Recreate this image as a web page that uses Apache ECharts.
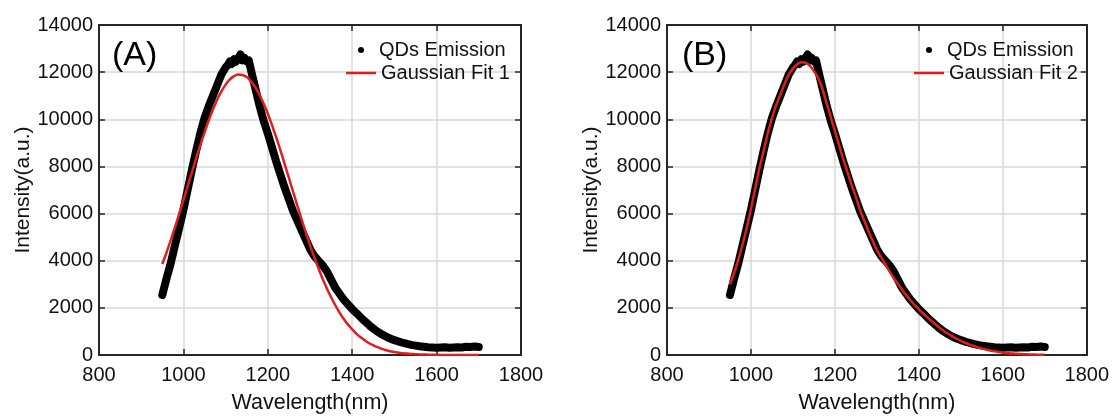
<!DOCTYPE html>
<html>
<head>
<meta charset="utf-8">
<script src="https://cdn.jsdelivr.net/npm/echarts@6/dist/echarts.min.js"></script>
<style>
html,body{margin:0;padding:0;background:#ffffff;}
#chart{width:1112px;height:419px;}
</style>
</head>
<body>
<div id="chart"></div>
<script>
// ---- data ----
const xTicks = [800, 1000, 1200, 1400, 1600, 1800];
const yTicks = [0, 2000, 4000, 6000, 8000, 10000, 12000, 14000];

const qdWavelength = [950,960,970,980,990,1000,1010,1020,1030,1040,1050,1060,1070,1080,1090,1100,1105,1110,1115,1120,1125,1130,1135,1140,1145,1150,1155,1160,1170,1180,1190,1200,1210,1220,1230,1240,1250,1260,1270,1280,1290,1300,1310,1320,1330,1340,1350,1360,1370,1380,1390,1400,1410,1420,1430,1440,1450,1460,1470,1480,1490,1500,1510,1520,1530,1540,1550,1560,1570,1580,1590,1600,1610,1620,1630,1640,1650,1660,1670,1680,1690,1700];
const qdIntensity = [2550,3250,3900,4650,5400,6150,7000,7850,8650,9400,10050,10550,11000,11450,11900,12200,12300,12450,12350,12550,12450,12600,12750,12500,12600,12450,12500,12100,11350,10600,9950,9400,8800,8200,7650,7100,6600,6100,5700,5300,4900,4500,4200,4000,3800,3550,3200,2850,2600,2350,2150,1950,1780,1600,1430,1270,1120,990,880,780,700,630,570,520,470,430,400,370,350,330,320,310,320,330,310,320,330,320,350,340,360,340];

const fitWavelength = [950,960,970,980,990,1000,1010,1020,1030,1040,1050,1060,1070,1080,1090,1100,1110,1120,1130,1140,1150,1160,1170,1180,1190,1200,1210,1220,1230,1240,1250,1260,1270,1280,1290,1300,1310,1320,1330,1340,1350,1360,1370,1380,1390,1400,1410,1420,1430,1440,1450,1460,1470,1480,1490,1500,1510,1520,1530,1540,1550,1560,1570,1580,1590,1600,1610,1620,1630,1640,1650,1660,1670,1680,1690,1700];
const fit1Intensity = [3860,4350,4870,5420,5990,6570,7160,7750,8330,8900,9440,9950,10410,10830,11180,11470,11690,11830,11900,11880,11790,11610,11370,11050,10670,10240,9750,9230,8680,8100,7510,6920,6340,5760,5200,4660,4150,3680,3230,2820,2450,2110,1800,1530,1290,1090,900,750,620,500,410,330,260,210,160,130,100,78,60,46,35,26,19,14,10,7,5,4,3,2,1,1,1,0,0,0];
const fit2Intensity = [3000,3500,4050,4700,5400,6200,7050,7900,8650,9400,10050,10600,11050,11500,11900,12150,12330,12420,12400,12280,12050,11750,11300,10700,10100,9500,8900,8300,7750,7200,6700,6150,5700,5250,4850,4450,4150,3850,3550,3280,3020,2770,2540,2320,2120,1940,1760,1600,1440,1290,1150,1020,900,790,690,600,520,450,390,330,280,235,195,160,130,105,85,68,54,43,34,27,21,16,12,9];

// ---- build ----
const FONT = 'Liberation Sans, Arial, Helvetica, sans-serif';
const AXIS_COLOR = '#262626';
const TEXT_COLOR = '#111111';
const RED = '#e01e1e';

const pairs = (xs, ys) => xs.map((x, i) => [x, ys[i]]);

const grids = [
  {left: 99, top: 25, width: 422, height: 337},
  {left: 667, top: 25, width: 423, height: 337}
];

function xAxes(gridIndex) {
  const base = {
    type: 'value', gridIndex,
    min: xTicks[0], max: xTicks[xTicks.length - 1], interval: xTicks[1] - xTicks[0]
  };
  return [
    Object.assign({}, base, {
      position: 'bottom',
      name: 'Wavelength(nm)', nameLocation: 'middle', nameGap: 37,
      nameTextStyle: {fontSize: 21.5, fontFamily: FONT, color: TEXT_COLOR},
      axisLine: {show: true, onZero: false, lineStyle: {color: AXIS_COLOR, width: 2}},
      axisTick: {show: true, inside: true, length: 6, lineStyle: {color: AXIS_COLOR, width: 1.5}},
      axisLabel: {show: true, margin: 10, fontSize: 20, fontFamily: FONT, color: TEXT_COLOR,
        formatter: v => String(v)},
      splitLine: {show: true, lineStyle: {color: '#d9d9d9', width: 1.5}}
    }),
    Object.assign({}, base, {
      position: 'top',
      axisLine: {show: true, onZero: false, lineStyle: {color: AXIS_COLOR, width: 2}},
      axisTick: {show: true, inside: true, length: 6, lineStyle: {color: AXIS_COLOR, width: 1.5}},
      axisLabel: {show: false},
      splitLine: {show: false}
    })
  ];
}

function yAxes(gridIndex) {
  const base = {
    type: 'value', gridIndex,
    min: yTicks[0], max: yTicks[yTicks.length - 1], interval: yTicks[1] - yTicks[0]
  };
  return [
    Object.assign({}, base, {
      position: 'left',
      name: 'Intensity(a.u.)', nameLocation: 'middle', nameGap: 64,
      nameTextStyle: {fontSize: 21, fontFamily: FONT, color: TEXT_COLOR},
      axisLine: {show: true, onZero: false, lineStyle: {color: AXIS_COLOR, width: 2}},
      axisTick: {show: true, inside: true, length: 6, lineStyle: {color: AXIS_COLOR, width: 1.5}},
      axisLabel: {show: true, margin: 6, fontSize: 20, fontFamily: FONT, color: TEXT_COLOR,
        formatter: v => String(v)},
      splitLine: {show: true, lineStyle: {color: '#d9d9d9', width: 1.5}}
    }),
    Object.assign({}, base, {
      position: 'right',
      axisLine: {show: true, onZero: false, lineStyle: {color: AXIS_COLOR, width: 2}},
      axisTick: {show: true, inside: true, length: 6, lineStyle: {color: AXIS_COLOR, width: 1.5}},
      axisLabel: {show: false},
      splitLine: {show: false}
    })
  ];
}

function legendPair(left, fitName) {
  const textStyle = {fontSize: 20, fontFamily: FONT, color: TEXT_COLOR};
  return [
    {
      orient: 'vertical', left: left + 12, top: 40, padding: 0,
      itemWidth: 6, itemHeight: 6, selectedMode: false,
      data: [{name: 'QDs Emission', icon: 'circle'}],
      formatter: name => '{p|' + name + '}',
      textStyle: Object.assign({}, textStyle, {
        rich: {p: Object.assign({}, textStyle, {padding: [0, 0, 0, 10]})}
      })
    },
    {
      orient: 'vertical', left: left, top: 63, padding: 0,
      itemWidth: 30, itemHeight: 2.5, selectedMode: false,
      data: [{name: fitName, icon: 'rect'}],
      textStyle: textStyle
    }
  ];
}

function qdSeries(axisIndex) {
  return {
    name: 'QDs Emission', type: 'line', xAxisIndex: axisIndex, yAxisIndex: axisIndex,
    data: pairs(qdWavelength, qdIntensity), showSymbol: false, symbol: 'circle',
    lineStyle: {color: '#000000', width: 8, cap: 'round', join: 'round'},
    itemStyle: {color: '#000000'}, z: 2
  };
}

function fitSeries(axisIndex, name, values) {
  return {
    name: name, type: 'line', xAxisIndex: axisIndex, yAxisIndex: axisIndex,
    data: pairs(fitWavelength, values), showSymbol: false, symbol: 'none', smooth: 0.3,
    lineStyle: {color: RED, width: 2.5},
    itemStyle: {color: RED}, z: 3
  };
}

const chart = echarts.init(document.getElementById('chart'), null, {renderer: 'canvas'});
chart.setOption({
  backgroundColor: '#ffffff',
  animation: false,
  title: [
    {text: '(A)', left: 112, top: 39, padding: 0,
      textStyle: {fontSize: 34, fontWeight: 'normal', fontFamily: FONT, color: '#000'}},
    {text: '(B)', left: 682, top: 39, padding: 0,
      textStyle: {fontSize: 34, fontWeight: 'normal', fontFamily: FONT, color: '#000'}}
  ],
  grid: grids,
  xAxis: [].concat(xAxes(0), xAxes(1)),
  yAxis: [].concat(yAxes(0), yAxes(1)),
  legend: [].concat(legendPair(346, 'Gaussian Fit 1'), legendPair(914, 'Gaussian Fit 2')),
  series: [
    qdSeries(0),
    fitSeries(0, 'Gaussian Fit 1', fit1Intensity),
    qdSeries(2),
    fitSeries(2, 'Gaussian Fit 2', fit2Intensity)
  ]
});
</script>
</body>
</html>
